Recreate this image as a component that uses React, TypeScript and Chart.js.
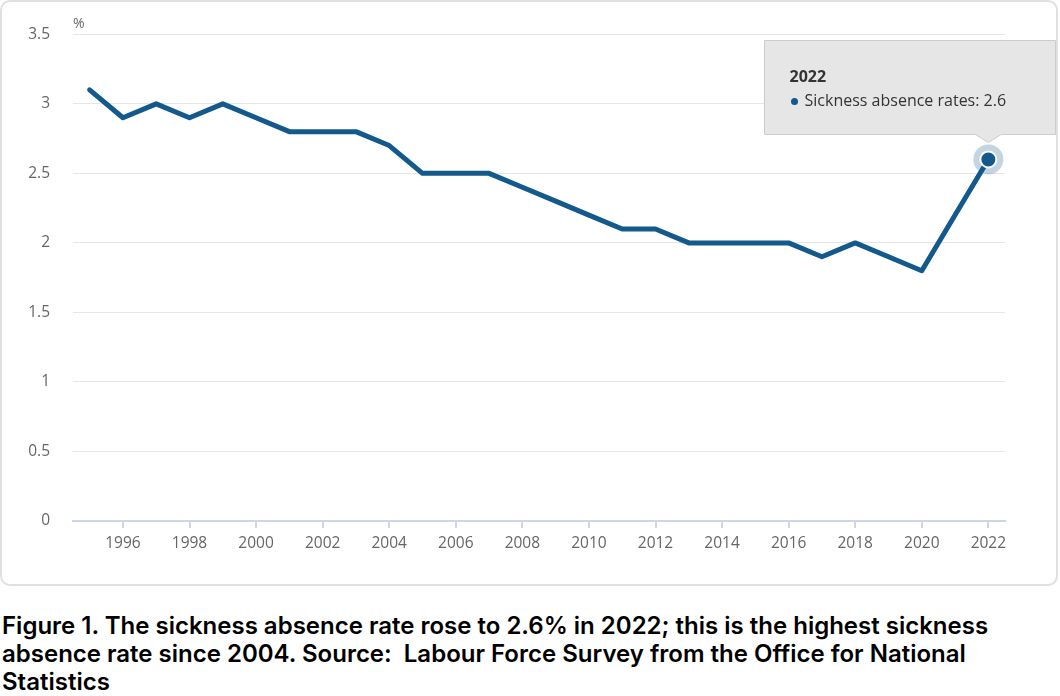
import React, { useEffect, useRef } from "react";
import { Chart, registerables } from "chart.js";

Chart.register(...registerables);

const years: string[] = [
  "1995", "1996", "1997", "1998", "1999", "2000", "2001", "2002", "2003", "2004",
  "2005", "2006", "2007", "2008", "2009", "2010", "2011", "2012", "2013", "2014",
  "2015", "2016", "2017", "2018", "2019", "2020", "2021", "2022",
];
const sicknessRates: number[] = [
  3.1, 2.9, 3.0, 2.9, 3.0, 2.9, 2.8, 2.8, 2.8, 2.7,
  2.5, 2.5, 2.5, 2.4, 2.3, 2.2, 2.1, 2.1, 2.0, 2.0,
  2.0, 2.0, 1.9, 2.0, 1.9, 1.8, 2.2, 2.6,
];
const seriesName = "Sickness absence rates";
const highlightIndex = 27;
const unitLabel = "%";
const caption =
  "Figure 1. The sickness absence rate rose to 2.6% in 2022; this is the highest sickness absence rate since 2004. Source:  Labour Force Survey from the Office for National Statistics";

const LINE = "#13598b";
const FONT = "'Open Sans', 'Noto Sans', sans-serif";

const overlayPlugin = {
  id: "overlay",
  beforeDatasetsDraw(chart: any) {
    const meta = chart.getDatasetMeta(0);
    const pt = meta.data[highlightIndex];
    if (!pt) return;
    const ctx = chart.ctx;
    ctx.save();
    ctx.beginPath();
    ctx.arc(pt.x, pt.y, 15, 0, Math.PI * 2);
    ctx.fillStyle = "rgba(19,89,139,0.25)";
    ctx.fill();
    ctx.restore();
  },
  afterDraw(chart: any) {
    const ctx = chart.ctx;
    const area = chart.chartArea;
    ctx.save();
    // unit label
    ctx.font = `14px ${FONT}`;
    ctx.fillStyle = "#666666";
    ctx.textAlign = "left";
    ctx.textBaseline = "alphabetic";
    ctx.fillText(unitLabel, area.left, area.top - 6);

    // tooltip
    const meta = chart.getDatasetMeta(0);
    const pt = meta.data[highlightIndex];
    if (pt) {
      const px = pt.x;
      const py = pt.y;
      const left = Math.round(px - 224) + 0.5;
      const right = Math.round(px + 67) + 0.5;
      const top = Math.round(py - 119) + 0.5;
      const bottom = Math.round(py - 25) + 0.5;
      const caretW = 13;
      const caretTip = py - 17;
      ctx.beginPath();
      ctx.moveTo(left, top);
      ctx.lineTo(right, top);
      ctx.lineTo(right, bottom);
      ctx.lineTo(px + caretW, bottom);
      ctx.lineTo(px, caretTip);
      ctx.lineTo(px - caretW, bottom);
      ctx.lineTo(left, bottom);
      ctx.closePath();
      ctx.fillStyle = "#e6e6e6";
      ctx.fill();
      ctx.lineWidth = 1;
      ctx.strokeStyle = "#cccccc";
      ctx.stroke();

      ctx.fillStyle = "#333333";
      ctx.font = `bold 16px ${FONT}`;
      ctx.textBaseline = "middle";
      ctx.fillText(years[highlightIndex], left + 25, top + 37);
      ctx.beginPath();
      ctx.arc(left + 30, top + 61, 3.5, 0, Math.PI * 2);
      ctx.fillStyle = LINE;
      ctx.fill();
      ctx.fillStyle = "#333333";
      ctx.font = `16px ${FONT}`;
      ctx.fillText(
        `${seriesName}: ${sicknessRates[highlightIndex]}`,
        left + 40,
        top + 61
      );
    }
    ctx.restore();
  },
};

export default function App() {
  const canvasRef = useRef<HTMLCanvasElement | null>(null);

  useEffect(() => {
    document.body.style.margin = "0";
    const canvas = canvasRef.current;
    if (!canvas) return;
    const chart = new Chart(canvas, {
      type: "line",
      data: {
        labels: years,
        datasets: [
          {
            label: seriesName,
            data: sicknessRates,
            borderColor: LINE,
            backgroundColor: LINE,
            borderWidth: 5,
            tension: 0,
            borderJoinStyle: "round",
            borderCapStyle: "round",
            pointRadius: years.map((_, i) => (i === highlightIndex ? 8 : 0)),
            pointHoverRadius: years.map((_, i) => (i === highlightIndex ? 8 : 0)),
            pointBackgroundColor: LINE,
            pointBorderColor: "#ffffff",
            pointBorderWidth: 2,
          },
        ],
      },
      options: {
        responsive: false,
        animation: false,
        events: [],
        layout: { padding: { top: 31, right: 51, left: 0, bottom: 0 } },
        plugins: {
          legend: { display: false },
          tooltip: { enabled: false },
          title: { display: false },
        },
        scales: {
          x: {
            type: "category",
            offset: true,
            grid: {
              display: true,
              drawOnChartArea: false,
              drawTicks: true,
              tickLength: 7,
              offset: false,
              lineWidth: 2,
              color: (ctx: any) => {
                const i = ctx.index;
                return i !== undefined && Number(years[i]) % 2 === 0
                  ? "#ccd6eb"
                  : "rgba(0,0,0,0)";
              },
            },
            border: { display: true, color: "#ccd6eb", width: 2 },
            ticks: {
              autoSkip: false,
              maxRotation: 0,
              padding: 6,
              color: "#666666",
              font: { family: FONT, size: 15.5 },
              callback: (_v: any, i: number) =>
                Number(years[i]) % 2 === 0 ? years[i] : "",
            },
            afterFit: (scale: any) => {
              scale.height = 63;
            },
          },
          y: {
            min: 0,
            max: 3.5,
            grid: { color: "#e6e6e6", drawTicks: false, lineWidth: 1 },
            border: { display: false },
            ticks: {
              stepSize: 0.5,
              padding: 23,
              color: "#666666",
              font: { family: FONT, size: 15.5 },
              callback: (v: any) => String(Math.round(Number(v) * 10) / 10),
            },
            afterFit: (scale: any) => {
              scale.width = 71;
            },
          },
        },
      },
      plugins: [overlayPlugin],
    });
    return () => chart.destroy();
  }, []);

  return (
    <div style={{ width: 1060, position: "relative" }}>
      <div
        style={{
          position: "relative",
          width: 1054,
          height: 582,
          border: "2px solid #e0e0e0",
          borderRadius: 10,
          background: "#ffffff",
        }}
      >
        <canvas
          ref={canvasRef}
          width={1054}
          height={582}
          style={{ display: "block", width: 1054, height: 582 }}
        />
      </div>
      <div
        style={{
          marginTop: 26,
          marginLeft: 2,
          fontFamily: "Inter, sans-serif",
          fontWeight: 600,
          fontSize: 24,
          lineHeight: "28px",
          color: "#000000",
          width: 1040,
          whiteSpace: "pre-wrap",
        }}
      >
        {caption}
      </div>
    </div>
  );
}
